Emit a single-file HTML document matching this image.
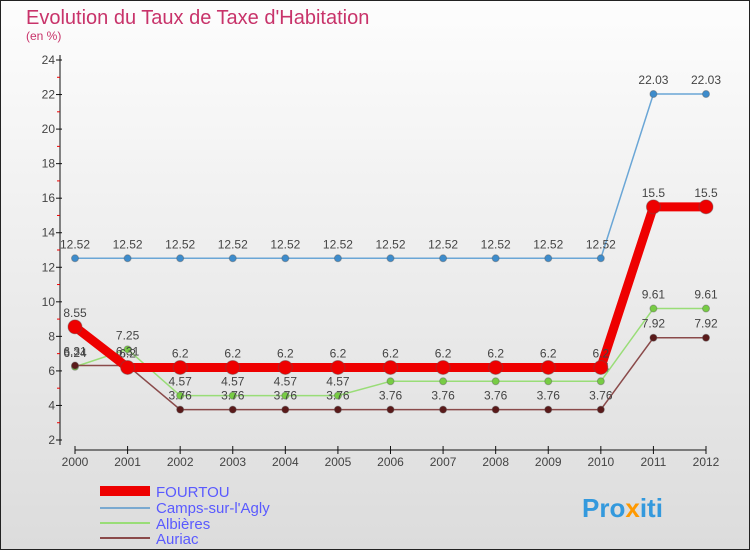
<!DOCTYPE html>
<html><head><meta charset="utf-8"><style>
html,body{margin:0;padding:0}
body{width:750px;height:550px;overflow:hidden;font-family:"Liberation Sans",sans-serif}
</style></head><body>
<svg id="c" width="750" height="550" xmlns="http://www.w3.org/2000/svg">
<defs><linearGradient id="bg" x1="0" y1="0" x2="0" y2="1"><stop offset="0" stop-color="#fdfdfd"/><stop offset="1" stop-color="#dcdcdc"/></linearGradient></defs>
<rect x="0.5" y="0.5" width="749" height="549" fill="url(#bg)" stroke="#222"/>
<text x="26" y="24" font-size="20" fill="#c8336a">Evolution du Taux de Taxe d'Habitation</text>
<text x="26" y="40" font-size="12" fill="#c8336a">(en %)</text>
<g id="axes"></g><g id="series"></g>
<g>
<rect x="100" y="486" width="50" height="10" fill="#e00"/>
<text x="156" y="497" font-size="15" fill="#5a5aff">FOURTOU</text>
<line x1="100" y1="508" x2="150" y2="508" stroke="#7aa9d0" stroke-width="2"/>
<text x="156" y="513" font-size="15" fill="#5a5aff">Camps-sur-l'Agly</text>
<line x1="100" y1="523" x2="150" y2="523" stroke="#99dd77" stroke-width="2"/>
<text x="156" y="529" font-size="15" fill="#5a5aff">Albières</text>
<line x1="100" y1="538" x2="150" y2="538" stroke="#8a4a4a" stroke-width="2"/>
<text x="156" y="544" font-size="15" fill="#5a5aff">Auriac</text>
</g>
<text x="582" y="517" font-size="26" font-weight="bold" fill="#3399dd">Pro<tspan fill="#ff9900">x</tspan>iti</text>
</svg>
<script>
const years=[2000,2001,2002,2003,2004,2005,2006,2007,2008,2009,2010,2011,2012];
const fourtou=[8.55,6.2,6.2,6.2,6.2,6.2,6.2,6.2,6.2,6.2,6.2,15.5,15.5];
const camps=[12.52,12.52,12.52,12.52,12.52,12.52,12.52,12.52,12.52,12.52,12.52,22.03,22.03];
const albieres=[6.24,7.25,4.57,4.57,4.57,4.57,5.4,5.4,5.4,5.4,5.4,9.61,9.61];
const auriac=[6.31,6.31,3.76,3.76,3.76,3.76,3.76,3.76,3.76,3.76,3.76,7.92,7.92];
const yTicks=[2,4,6,8,10,12,14,16,18,20,22,24];
const NS="http://www.w3.org/2000/svg";
const x=i=>75+i*(706-75)/(years.length-1);
const y=v=>440-(v-2)*380/22;
function mk(t,a,p){const e=document.createElementNS(NS,t);for(const k in a)e.setAttribute(k,a[k]);p.appendChild(e);return e;}
const ax=document.getElementById('axes'),sg=document.getElementById('series');
let l=mk('line',{x1:60,y1:55,x2:60,y2:445,stroke:'#111'},ax);


l=mk('line',{x1:75,y1:450,x2:706,y2:450,stroke:'#111'},ax);


yTicks.forEach(v=>{mk('line',{x1:56,y1:y(v),x2:62,y2:y(v),stroke:'#111'},ax);
 mk('line',{x1:57,y1:y(v+1),x2:60,y2:y(v+1),stroke:v<24?'#e00':'none'},ax);
 const t=mk('text',{x:55,y:y(v)+4,'text-anchor':'end','font-size':12,fill:'#444'},ax);t.textContent=v;
 
 });
years.forEach((yr,i)=>{mk('line',{x1:x(i),y1:446,x2:x(i),y2:454,stroke:'#111'},ax);
 const t=mk('text',{x:x(i),y:466,'text-anchor':'middle','font-size':12,fill:'#444'},ax);t.textContent=yr;
 
 });
function series(d,col,w,r,name,dot){
 const p=mk('polyline',{points:d.map((v,i)=>x(i)+','+y(v)).join(' '),fill:'none',stroke:col,'stroke-width':w},sg);
 
 
 d.forEach((v,i)=>{const c=mk('circle',{cx:x(i),cy:y(v),r:r,fill:dot,stroke:'#555','stroke-opacity':0.4},sg);
  
  
  const t=mk('text',{x:x(i),y:y(v)-10,'text-anchor':'middle','font-size':12,fill:'#444'},sg);t.textContent=v;
  
  });
}
series(camps,'#6aa6d6',1.5,3.5,'camps','#3d8ccc');
series(albieres,'#99dd77',1.5,3.5,'albieres','#77cc44');
series(auriac,'#8a4a4a',1.5,3.5,'auriac','#5a1a1a');
series(fourtou,'#ee0000',9,7,'fourtou','#ee0000');
</script>
</body></html>
